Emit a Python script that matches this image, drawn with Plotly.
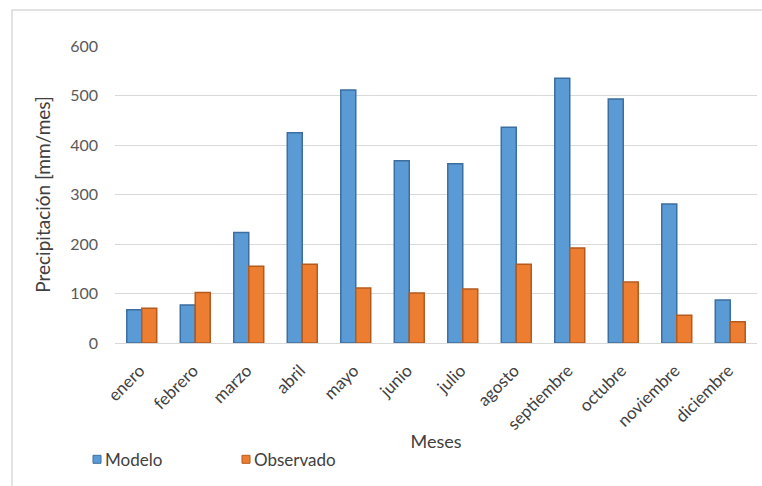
import plotly.graph_objects as go

meses = ["enero", "febrero", "marzo", "abril", "mayo", "junio", "julio",
         "agosto", "septiembre", "octubre", "noviembre", "diciembre"]
modelo = [67, 77, 223, 425, 511, 368, 362, 436, 535, 493, 281, 87]
observado = [70, 102, 155, 159, 111, 101, 109, 159, 192, 123, 56, 43]
y_ticks = [0, 100, 200, 300, 400, 500, 600]

FONT = "Lato, Carlito, 'Open Sans', sans-serif"
BLUE, BLUE_EDGE = "#5B9BD5", "#3C6E9F"
ORANGE, ORANGE_EDGE = "#ED7D31", "#B45A1E"

fig = go.Figure()
fig.add_trace(go.Bar(
    x=meses, y=modelo, name="Modelo",
    marker=dict(color=BLUE, line=dict(color=BLUE_EDGE, width=1.5)),
))
fig.add_trace(go.Bar(
    x=meses, y=observado, name="Observado",
    marker=dict(color=ORANGE, line=dict(color=ORANGE_EDGE, width=1.5)),
))

W, H = 762, 486
L, R, T, B = 115, 5, 46, 142.5
pw, ph = W - L - R, H - T - B


def px_x(x):
    return (x - L) / pw


def px_y(y):
    return (H - B - y) / ph


# Outer chart frame plus a legend drawn as small squares with labels
shapes = [dict(
    type="rect", xref="paper", yref="paper",
    x0=px_x(12), x1=1.2, y0=-1.0, y1=px_y(10),
    line=dict(color="#D9D9D9", width=1.5), fillcolor="rgba(0,0,0,0)", layer="below",
)]
annotations = []
for name, fill, edge, x0 in [("Modelo", BLUE, BLUE_EDGE, 93), ("Observado", ORANGE, ORANGE_EDGE, 242)]:
    shapes.append(dict(
        type="rect", xref="paper", yref="paper",
        x0=px_x(x0), x1=px_x(x0 + 8), y0=px_y(464), y1=px_y(456),
        line=dict(color=edge, width=1), fillcolor=fill,
    ))
    annotations.append(dict(
        text=name, xref="paper", yref="paper", x=px_x(x0 + 10), y=px_y(460),
        xanchor="left", yanchor="middle", showarrow=False,
        font=dict(size=17, color="#404040", family=FONT),
    ))

fig.update_layout(
    width=W, height=H,
    margin=dict(l=L, r=R, t=T, b=B, pad=0),
    paper_bgcolor="white", plot_bgcolor="white",
    barmode="group", bargap=0.44, bargroupgap=0,
    font=dict(family=FONT, color="#595959", size=15),
    showlegend=False,
    xaxis=dict(
        tickangle=-45, showgrid=False, zeroline=False, automargin=False,
        showline=True, linecolor="#D9D9D9", linewidth=1,
        tickfont=dict(size=17, color="#404040"),
        ticklabelstandoff=10, ticklabelshift=-2,
        title=dict(text="Meses", font=dict(size=18, color="#404040"), standoff=2),
    ),
    yaxis=dict(
        range=[0, 600], tickvals=y_ticks, showgrid=True, automargin=False,
        gridcolor="#D9D9D9", gridwidth=1, zeroline=False,
        tickfont=dict(size=16, color="#595959"),
        ticklabelstandoff=16,
        title=dict(text="Precipitación [mm/mes]", font=dict(size=19, color="#404040"), standoff=14),
    ),
    shapes=shapes,
    annotations=annotations,
)

fig.write_html("out.html")
